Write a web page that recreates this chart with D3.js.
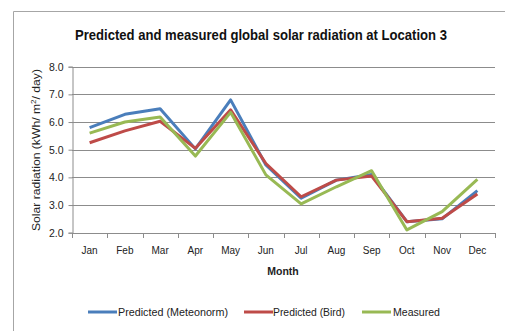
<!DOCTYPE html>
<html><head><meta charset="utf-8">
<script src="https://cdn.jsdelivr.net/npm/d3@7"></script>
<style>body{margin:0;background:#fff}svg{display:block}</style>
</head><body>
<svg id="c" width="505" height="331"></svg>
<script>
const months = ["Jan","Feb","Mar","Apr","May","Jun","Jul","Aug","Sep","Oct","Nov","Dec"];
const meteonorm = [5.8,6.28,6.48,5.03,6.8,4.45,3.25,3.9,4.1,2.4,2.5,3.52];
const bird = [5.25,5.68,6.03,5.05,6.44,4.5,3.3,3.9,4.05,2.4,2.52,3.4];
const measured = [5.6,6.0,6.18,4.77,6.35,4.09,3.04,3.66,4.24,2.1,2.76,3.93];
const yTicks = [2,3,4,5,6,7,8];
const seriesNames = ["Predicted (Meteonorm)","Predicted (Bird)","Measured"];
const colors = ["#4A7EBB","#BE4B48","#98B954"];

const svg = d3.select("#c");
const font = "Liberation Sans, Arial, sans-serif";
// frame
svg.append("path").attr("d","M13.5,331 L13.5,11.5 L505,11.5").attr("fill","none").attr("stroke","#a6a6a6").attr("stroke-width",1);

const x = d3.scaleBand().domain(months).range([72,495]);
const y = d3.scaleLinear().domain([2,8]).range([232.7,66.7]);

// gridlines
svg.append("g").selectAll("line").data(yTicks.slice(1)).join("line")
  .attr("x1",72).attr("x2",495)
  .attr("y1",d=>Math.round(y(d))+0.5).attr("y2",d=>Math.round(y(d))+0.5)
  .attr("stroke","#8c8c8c").attr("stroke-width",1);

// y axis
const ya = svg.append("g").attr("transform","translate(72.5,0)")
  .call(d3.axisLeft(y).tickValues(yTicks).tickFormat(d3.format(".1f")).tickSize(4).tickPadding(5));
ya.select(".domain").attr("stroke","#8c8c8c");
ya.selectAll(".tick line").attr("stroke","#8c8c8c");
ya.selectAll(".tick text").attr("font-family",font).attr("font-size",10.5).attr("fill","#222");

// x axis
const xa = svg.append("g").attr("transform",`translate(0,${Math.round(y(2))+0.5})`)
  .call(d3.axisBottom(x).tickSize(0));
xa.select(".domain").attr("stroke","#8c8c8c").attr("d","M72,0H495");
xa.selectAll(".tick text").attr("font-family",font).attr("font-size",10).attr("fill","#222")
  .attr("y",20).attr("dy",0);
// category boundary ticks
svg.append("g").selectAll("line").data(d3.range(13)).join("line")
  .attr("x1",i=>Math.round(72+i*x.step())+0.5).attr("x2",i=>Math.round(72+i*x.step())+0.5)
  .attr("y1",Math.round(y(2))).attr("y2",Math.round(y(2))+5)
  .attr("stroke","#8c8c8c");

// lines
const line = d3.line().x((d,i)=>x(months[i])+x.bandwidth()/2).y(d=>y(d));
[meteonorm,bird,measured].forEach((s,k)=>{
  svg.append("path").datum(s).attr("d",line).attr("fill","none")
    .attr("stroke",colors[k]).attr("stroke-width",3).attr("stroke-linejoin","round");
});

// title
svg.append("text").attr("x",261).attr("y",40).attr("text-anchor","middle")
  .attr("font-family",font).attr("font-weight","bold").attr("font-size",15)
  .attr("textLength",372).attr("lengthAdjust","spacingAndGlyphs").attr("fill","#111")
  .text("Predicted and measured global solar radiation at Location 3");

// axis titles
svg.append("text").attr("transform","translate(40,150) rotate(-90)").attr("text-anchor","middle")
  .attr("font-family",font).attr("font-size",10.5).attr("fill","#222")
  .attr("textLength",162).attr("lengthAdjust","spacingAndGlyphs")
  .html("Solar radiation (kWh/ m<tspan dy='-4' font-size='7'>2</tspan><tspan dy='4'>/ day)</tspan>");
svg.append("text").attr("x",283).attr("y",275).attr("text-anchor","middle")
  .attr("font-family",font).attr("font-weight","bold").attr("font-size",10.5).attr("fill","#222")
  .text("Month");

// legend
const legX = [88,244,362];
const legText = [118,273,393];
const legLen = [110,72,47];
const lg = svg.append("g");
seriesNames.forEach((n,k)=>{
  lg.append("line").attr("x1",legX[k]).attr("x2",legX[k]+29).attr("y1",312).attr("y2",312)
    .attr("stroke",colors[k]).attr("stroke-width",3);
  lg.append("text").attr("x",legText[k]).attr("y",315.5).attr("font-family",font).attr("font-size",10.5).attr("fill","#222")
    .attr("textLength",legLen[k]).attr("lengthAdjust","spacingAndGlyphs")
    .text(n);
});
</script>
</body></html>
